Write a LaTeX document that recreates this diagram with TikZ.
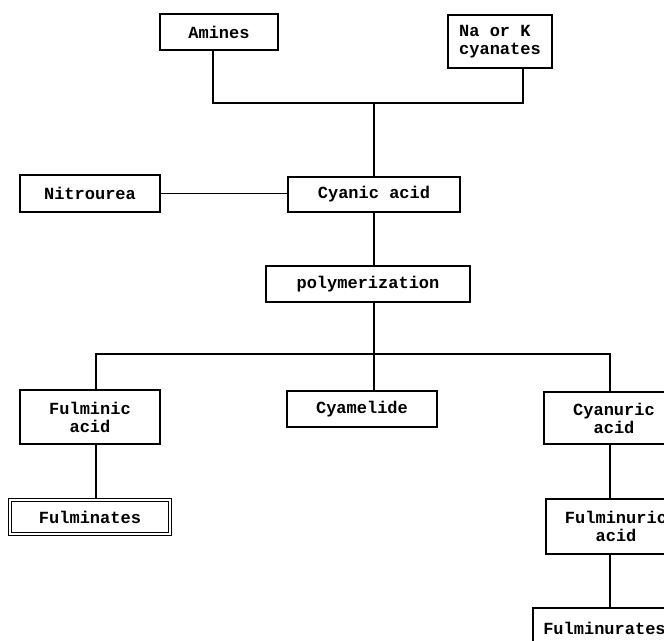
\documentclass[tikz,border=0pt]{standalone}
\usepackage{fontspec}
\setmonofont{Liberation Mono}
\usetikzlibrary{positioning}

\tikzset{
  box/.style={draw, line width=1.1pt, inner sep=0pt, align=center,
    font=\ttfamily\bfseries\fontsize{17}{18}\selectfont},
  link/.style={line width=1.1pt}
}

\begin{document}
\begin{tikzpicture}[x=1pt, y=-1pt]
  \useasboundingbox (0,0) rectangle (664,640);
  \clip (0,0) rectangle (664,640);

  % Ausgangsstoffe
  \node[box, minimum width=118pt, minimum height=36pt] (amines) at (219,32) {Amines};
  \node[box, minimum width=104pt, minimum height=53pt, align=left] (cyanates) at (500,41.5) {Na or K\\cyanates};
  \coordinate (top) at (374,103);

  % Cyansaeure
  \node[box, minimum width=172pt, minimum height=35pt] (cyanic) at (374,194.5) {Cyanic acid};
  \node[box, minimum width=140pt, minimum height=37pt] (nitro) at (90,193.5) {Nitrourea};
  \node[box, minimum width=204pt, minimum height=36pt] (poly) at (368,284) {polymerization};
  \coordinate (colL) at (96,354);
  \coordinate (colM) at (374,354);
  \coordinate (colR) at (610,354);

  % Produkte
  \node[box, minimum width=140pt, minimum height=54pt] (fulminic) at (90,417) {Fulminic\\acid};
  \node[box, double, double distance=2pt, minimum width=160pt, minimum height=34pt] (fulminates) at (90,517) {Fulminates};
  \node[box, minimum width=150pt, minimum height=36pt] (cyamelide) at (362,409) {Cyamelide};
  \node[box, minimum width=140pt, minimum height=52pt] (cyanuric) at (614,418) {Cyanuric\\acid};
  \node[box, minimum width=140pt, minimum height=55pt] (fulminuric) at (616,526.5) {Fulminuric\\acid};
  \node[box, minimum width=143pt, minimum height=40pt] (fulminurates) at (604.5,628) {Fulminurates};

  % Verbindungen
  \draw[link] ([xshift=-6]amines.south) |- (top) -| ([xshift=23]cyanates.south);
  \draw[link] (top) -- (cyanic.north);
  \draw[link] (nitro.east) -- (nitro.east -| cyanic.west);
  \draw[link] (cyanic.south) -- (cyanic.south |- poly.north);
  \draw[link] (poly.south -| colM) -- (colM |- cyamelide.north);
  \draw[link] (colL |- fulminic.north) -- (colL) -- (colR) -- (colR |- cyanuric.north);
  \draw[link] (colL |- fulminic.south) -- (colL |- fulminates.north);
  \draw[link] (colR |- cyanuric.south) -- (colR |- fulminuric.north);
  \draw[link] (colR |- fulminuric.south) -- (colR |- fulminurates.north);
\end{tikzpicture}
\end{document}
